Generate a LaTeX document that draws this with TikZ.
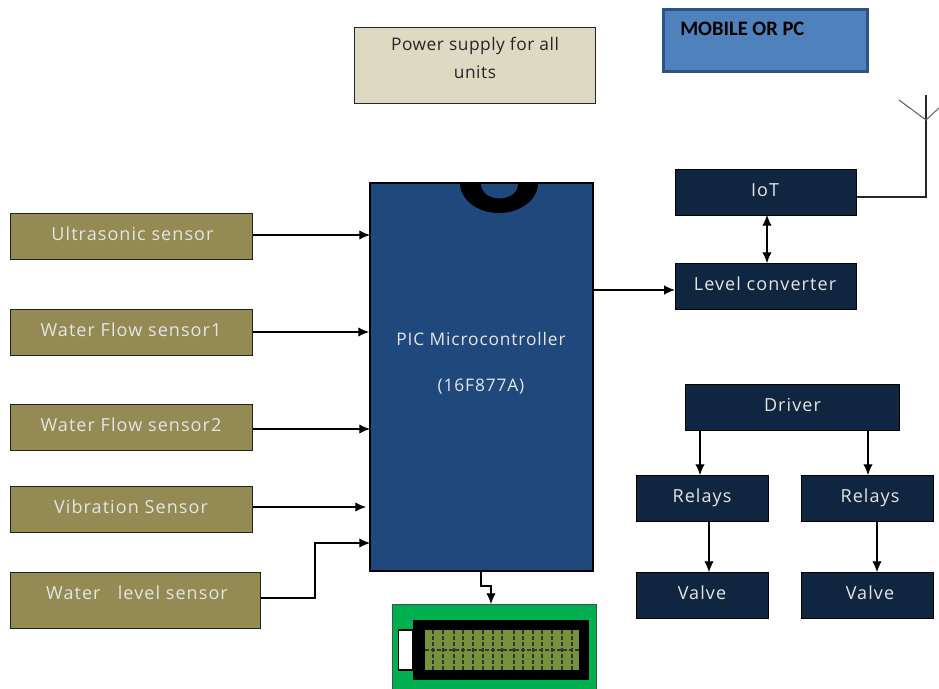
\documentclass[tikz,border=0pt]{standalone}
\usepackage{fontspec}
\setmainfont{Open Sans}[LetterSpace=6]
\newfontfamily\pwrf{Open Sans}[LetterSpace=3]
\newfontfamily\picf{Open Sans}[LetterSpace=5]
\newfontfamily\boldf{Carlito}
\usetikzlibrary{arrows.meta}
\definecolor{sensorc}{HTML}{948A54}
\definecolor{navyc}{HTML}{10253F}
\definecolor{picc}{HTML}{1F497D}
\definecolor{powerc}{HTML}{DDD9C3}
\definecolor{mobc}{HTML}{4F81BD}
\definecolor{mobb}{HTML}{2F5380}
\definecolor{lcdg}{HTML}{00B050}
\definecolor{lcdo}{HTML}{76923C}
\definecolor{lined}{HTML}{222222}
\tikzset{
 px/.style={inner sep=0pt,outer sep=0pt,anchor=base,text=white!90!black,font=\fontsize{13.5}{15}\selectfont},
 sensor/.style={inner sep=0pt,draw=lined,line width=0.7pt,fill=sensorc},
 navy/.style={inner sep=0pt,draw=black,line width=0.7pt,fill=navyc},
 conn/.style={draw=black,line width=0.8pt,-{Latex[length=8pt,width=7pt]}},
 bidir/.style={draw=black,line width=0.8pt,{Latex[length=8pt,width=7pt]}-{Latex[length=8pt,width=7pt]}},
 plainline/.style={draw=black!85,line width=0.8pt},
 lcddash/.style={draw=black!80,line width=0.9pt,dash pattern=on 3pt off 1.5pt}
}
\begin{document}
\begin{tikzpicture}[x=0.75pt,y=-0.75pt]
\useasboundingbox (0,0) rectangle (939,689);
% sensors
\node[sensor,minimum width=181pt,minimum height=34.5pt] (us) at (131.5,236) {};
\node[px] at (132.5,240.5) {Ultrasonic sensor};
\node[sensor,minimum width=181pt,minimum height=34.5pt] (wf1) at (131.5,332) {};
\node[px] at (131,336.5) {Water Flow sensor1};
\node[sensor,minimum width=181pt,minimum height=34.5pt] (wf2) at (131.5,427) {};
\node[px] at (131,431) {Water Flow sensor2};
\node[sensor,minimum width=181pt,minimum height=34.5pt] (vib) at (131.5,509) {};
\node[px] at (131,513) {Vibration Sensor};
\node[sensor,minimum width=187pt,minimum height=42pt] (wl) at (135.5,600) {};
\node[px] at (137,599) {Water\ \ \ level sensor};
% PIC
\node[draw=black,line width=1.5pt,fill=picc,minimum width=167.25pt,minimum height=291pt,inner sep=0pt] (pic) at (481.5,377) {};
\fill[black] (460,183) arc[start angle=180,end angle=0,x radius=39,y radius=30] -- cycle;
\fill[picc] (481,184) arc[start angle=180,end angle=0,x radius=18.5,y radius=14.5] -- cycle;
\node[px,font=\picf\fontsize{13}{15}\selectfont] at (481,345) {PIC Microcontroller};
\node[px,font=\picf\fontsize{13}{15}\selectfont] at (481,391) {(16F877A)};
% top
\node[draw=black!85,line width=0.7pt,fill=powerc,minimum width=181pt,minimum height=57pt,inner sep=0pt] (pow) at (475,65) {};
\node[px,text=black!85,font=\pwrf\fontsize{13}{15}\selectfont] at (475,50) {Power supply for all};
\node[px,text=black!85,font=\pwrf\fontsize{13}{15}\selectfont] at (475,78) {units};
\node[draw=mobb,line width=2.4pt,fill=mobc,minimum width=153.5pt,minimum height=47pt,inner sep=0pt] (mob) at (765.5,40.5) {};
\node[anchor=base west,inner sep=0pt,text=black,font=\boldf\bfseries\fontsize{15.4}{17}\selectfont] at (680,35) {MOBILE OR PC};
% right
\node[navy,minimum width=136pt,minimum height=34.5pt] (iot) at (766,192) {};
\node[px] at (765,196) {IoT};
\node[navy,minimum width=136pt,minimum height=34.5pt] (lc) at (766,286) {};
\node[px] at (765,290) {Level converter};
\node[navy,minimum width=161pt,minimum height=34.5pt] (drv) at (792.5,407) {};
\node[px] at (792.5,411) {Driver};
\node[navy,minimum width=99pt,minimum height=34.5pt] (r1) at (702,498) {};
\node[px] at (702,502) {Relays};
\node[navy,minimum width=99pt,minimum height=34.5pt] (r2) at (867,498) {};
\node[px] at (870,502) {Relays};
\node[navy,minimum width=99pt,minimum height=34.5pt] (v1) at (702,595) {};
\node[px] at (702,599) {Valve};
\node[navy,minimum width=99pt,minimum height=34.5pt] (v2) at (867,595) {};
\node[px] at (870,599) {Valve};
% LCD
\node[draw=black!70,line width=0.6pt,fill=lcdg,minimum width=153pt,minimum height=80pt,inner sep=0pt,anchor=north west] (lcd) at (392,604) {};
\fill[black] (413,620) rectangle (589,680);
\draw[black,line width=0.8pt,fill=white] (398.5,630) rectangle (413,670);
\fill[lcdo] (425,630) rectangle (579,670);
\foreach \x in {433,443,454,463,473,483,493,502,514,523,533,542,552,562,572}{
 \draw[lcddash] (\x,630) -- (\x,670);
}
\draw[lcddash] (425,650) -- (579,650);
% connectors
\coordinate (jw1) at (315,598);
\coordinate (jw2) at (315,543);
\coordinate (endw) at (370,543);
\coordinate (endv) at (366,507);
\draw[conn] (us.east) ++(0,-1) -- (370,235);
\draw[conn] (wf1.east) -- (wf1.east -| pic.west);
\draw[conn] (wf2.east) ++(0,2) -- (370,429);
\draw[conn] (253,507) -- (endv);
\draw[conn] (261,598) -- (jw1) -- (jw2) -- (endw);
\coordinate (picout) at (593,290);
\draw[conn] (picout) -- (picout -| lc.west);
\draw[bidir] (767,215) -- (767,263);
\draw[conn] (700,430) -- (700,475);
\draw[conn] (868,430) -- (868,475);
\draw[conn] (709,521) -- (709,572);
\draw[conn] (877,521) -- (877,572);
\draw[conn] (481,571) -- (481,586) -- (491,586) -- (491,604);
% antenna
\coordinate (ant) at (926,120);
\draw[plainline] (iot.east |- 0,197) -- (926,197) -- (926,95);
\draw[draw=black!60,line width=0.8pt] (899,100) -- (ant) -- (939,108);
\end{tikzpicture}
\end{document}
